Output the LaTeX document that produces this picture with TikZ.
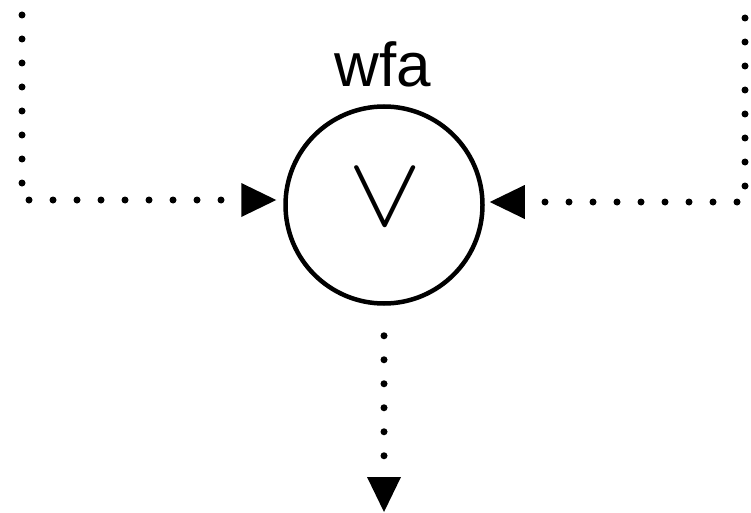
\documentclass[tikz,border=0pt]{standalone}
\usepackage{fontspec}
\setmainfont{Liberation Sans}
\usetikzlibrary{arrows.meta,positioning}

\begin{document}
\begin{tikzpicture}[x=1pt,y=-1pt,
    gate/.style={draw,circle,line width=4.5pt,minimum size=197pt,inner sep=0pt},
    flow/.style={line width=7pt,line cap=round,dash pattern=on 0pt off 24pt,
      -{Triangle[length=35pt,width=34pt,line width=0pt]}},
    tag/.style={font=\fontsize{62}{62}\selectfont,inner sep=0pt,anchor=base}]
    \useasboundingbox (0,0) rectangle (751,513);
    \node[gate] (or) at (384,205) {};
    \node[inner sep=0pt] (sym) at (385,198) {\scalebox{11}[10]{$\vee$}};
    \node[tag] (wfa) at (382.5,87) {wfa};
    \coordinate (inL) at (22,15);
    \coordinate (inR) at (745,18);
    \coordinate (out) at (384,512);
    \draw[flow,shorten >=7pt] (inL) |- ([yshift=5pt]or.west);
    \draw[flow,shorten >=5pt] (inR) |- ([yshift=3pt]or.east);
    \draw[flow,shorten <=30pt] (or.south) -- (out);
  \end{tikzpicture}
\end{document}
